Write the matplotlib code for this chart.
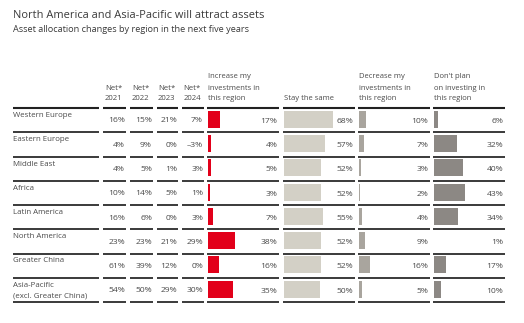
import matplotlib
matplotlib.use("Agg")
import matplotlib.pyplot as plt

plt.rcParams['font.family'] = ['Open Sans', 'DejaVu Sans']

# data
regions = ["Western Europe", "Eastern Europe", "Middle East", "Africa",
           "Latin America", "North America", "Greater China",
           "Asia-Pacific\n(excl. Greater China)"]
net_years = ["2021", "2022", "2023", "2024"]
net_2021 = [16, 4, 4, 10, 16, 23, 61, 54]
net_2022 = [15, 9, 5, 14, 6, 23, 39, 50]
net_2023 = [21, 0, 1, 5, 0, 21, 12, 29]
net_2024 = [7, -3, 3, 1, 3, 29, 0, 30]
increase = [17, 4, 5, 3, 7, 38, 16, 35]
stay_same = [68, 57, 52, 52, 55, 52, 52, 50]
decrease = [10, 7, 3, 2, 4, 9, 16, 5]
no_plan = [6, 32, 40, 43, 34, 1, 17, 10]

bar_headers = ["Increase my\ninvestments in\nthis region", "Stay the same",
               "Decrease my\ninvestments in\nthis region",
               "Don't plan\non investing in\nthis region"]
bar_colors = ["#e2001a", "#d3d0c6", "#a9a59e", "#8c8884"]

W, H = 524, 323
fig = plt.figure(figsize=(W / 100, H / 100), dpi=100)
bg = fig.add_axes([0, 0, 1, 1])
bg.set_xlim(0, W)
bg.set_ylim(H, 0)
bg.axis("off")

txt = "#4a4a4a"
bg.text(13, 15, "North America and Asia-Pacific will attract assets",
        fontsize=7.9, color="#3a3a3a", va="center")
bg.text(13, 30, "Asset allocation changes by region in the next five years",
        fontsize=6.6, color="#3a3a3a", va="center")

top = 108
rh = 24.25
n = len(regions)

label_col = (13, 99)
net_cols = [(103, 126), (130, 153), (157, 178), (182, 204)]
bar_cols = [(207, 279), (283, 355), (358, 430), (433, 505)]

# header texts
for (x0, x1), yr in zip(net_cols, net_years):
    cx = (x0 + x1) / 2 - 1
    bg.text(cx, 88, "Net*", fontsize=5.6, color=txt, ha="center", va="center")
    bg.text(cx, 99, yr, fontsize=5.6, color=txt, ha="center", va="center")
for (x0, x1), head in zip(bar_cols, bar_headers):
    lines = head.split("\n")
    for k, ln in enumerate(reversed(lines)):
        bg.text(x0 + 1, 99 - 11 * k, ln, fontsize=5.5, color=txt,
                ha="left", va="center")

# separator lines
all_cols = [label_col] + net_cols + bar_cols
for i in range(n + 1):
    y = top + i * rh
    for x0, x1 in all_cols:
        bg.plot([x0, x1], [y, y], color="#222222",
                lw=1.5 if i == 0 else 1.25, solid_capstyle="butt")

# row labels and net values
nets = [net_2021, net_2022, net_2023, net_2024]
for i, reg in enumerate(regions):
    y0 = top + i * rh
    for k, ln in enumerate(reg.split("\n")):
        bg.text(13, y0 + 7.5 + 11 * k, ln, fontsize=5.7, color=txt, va="center")
    for (x0, x1), vals in zip(net_cols, nets):
        v = vals[i]
        s = ("\u2013%d%%" % -v) if v < 0 else "%d%%" % v
        bg.text(x1 - 1, y0 + 13, s, fontsize=6.1, color=txt,
                ha="right", va="center")

# bar columns
series = [increase, stay_same, decrease, no_plan]
for (x0, x1), vals, col in zip(bar_cols, series, bar_colors):
    ax = fig.add_axes([x0 / W, 1 - (top + n * rh) / H,
                       (x1 - x0) / W, n * rh / H])
    ax.set_xlim(0, 100)
    ax.set_ylim(n, 0)
    ax.axis("off")
    ys = [i + 0.47 for i in range(n)]
    ax.barh(ys, vals, height=0.7, left=1, color=col)
    for y, v in zip(ys, vals):
        ax.text(97.5, y + 0.08, "%d%%" % v, fontsize=6.1, color=txt,
                ha="right", va="center")

fig.savefig("out.png", dpi=100)
